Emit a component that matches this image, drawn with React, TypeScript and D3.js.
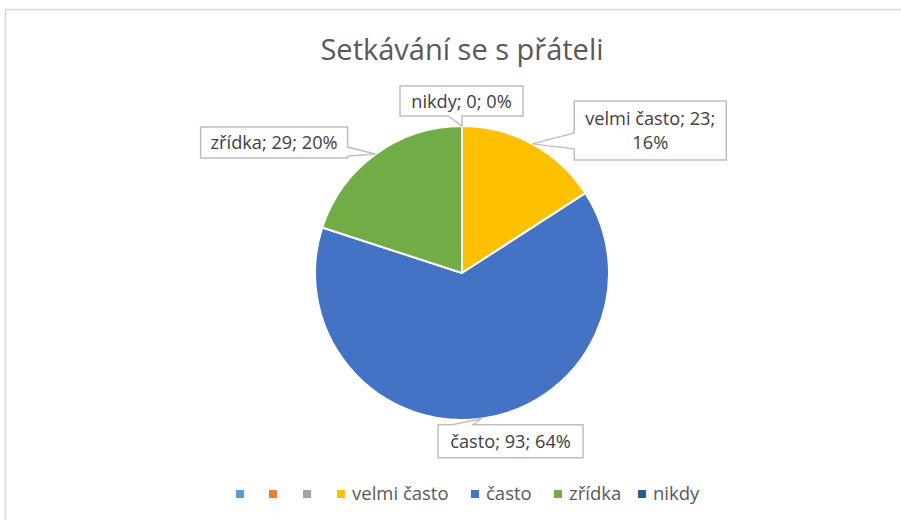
import React from "react";
import * as d3 from "d3";

const categories = ["", " ", "  ", "velmi často", "často", "zřídka", "nikdy"];
const values = [0, 0, 0, 23, 93, 29, 0];
const colors = ["#5B9BD5", "#ED7D31", "#A5A5A5", "#FFC000", "#4472C4", "#70AD47", "#255E91"];
const title = "Setkávání se s přáteli";

const W = 901;
const H = 520;
const cx = 462;
const cy = 273;
const R = 147;
const FONT = "'Open Sans', Lato, sans-serif";

// label box layout relative to the tip point (layout only)
type Box = { dx: number; dy: number; w: number; h: number; side: "top" | "bottom" | "left" | "right"; b0: number; b1: number };
const labelBoxes: Record<string, Box> = {
  "velmi často": { dx: 42, dy: -43, w: 152, h: 59, side: "left", b0: 32, b1: 48 },
  "často": { dx: -43, dy: 6, w: 145, h: 33, side: "top", b0: 14, b1: 35 },
  "zřídka": { dx: -175, dy: -27, w: 147, h: 31, side: "right", b0: 20, b1: 29 },
  "nikdy": { dx: -62, dy: -40, w: 123, h: 30, side: "bottom", b0: 48, b1: 62 },
};

function calloutPath(x: number, y: number, w: number, h: number, tx: number, ty: number, b: Box) {
  const x2 = x + w, y2 = y + h;
  const p: [number, number][] = [];
  p.push([x, y]);
  if (b.side === "top") { p.push([x + b.b0, y], [tx, ty], [x + b.b1, y]); }
  p.push([x2, y]);
  if (b.side === "right") { p.push([x2, y + b.b0], [tx, ty], [x2, y + b.b1]); }
  p.push([x2, y2]);
  if (b.side === "bottom") { p.push([x + b.b1, y2], [tx, ty], [x + b.b0, y2]); }
  p.push([x, y2]);
  if (b.side === "left") { p.push([x, y + b.b1], [tx, ty], [x, y + b.b0]); }
  return "M" + p.map((q) => q.join(",")).join("L") + "Z";
}

export default function App() {
  const total = d3.sum(values);
  const data = categories.map((c, i) => ({ c, v: values[i], color: colors[i] }));
  const pie = d3.pie<any>().value((d) => d.v).sort(null).startAngle(0).endAngle(2 * Math.PI);
  const arcs = pie(data);
  const arc = d3.arc<any>().innerRadius(0).outerRadius(R);

  const legendX = [240, 273, 307, 341, 475, 558, 642];

  return (
    <div style={{ position: "fixed", left: 0, top: 0 }}>
      <svg width={W} height={H} style={{ display: "block", fontFamily: FONT }}>
        <rect x={0} y={0} width={W} height={H} fill="#fff" />
        <rect x={5.5} y={9.5} width={W + 10} height={H + 10} fill="none" stroke="#D9D9D9" strokeWidth={1.5} />
        <text x={cx} y={60} textAnchor="middle" fontSize={29} fill="#595959">{title}</text>
        <g transform={`translate(${cx},${cy})`}>
          {arcs.filter((a) => a.data.v > 0).map((a, i) => (
            <path key={i} d={arc(a) as string} fill={a.data.color} stroke="#fff" strokeWidth={2} strokeLinejoin="round" />
          ))}
        </g>
        {arcs.filter((a) => labelBoxes[a.data.c]).map((a, i) => {
          const mid = (a.startAngle + a.endAngle) / 2;
          const tx = cx + R * Math.sin(mid);
          const ty = cy - R * Math.cos(mid);
          const b = labelBoxes[a.data.c];
          const bx = tx + b.dx;
          const by = ty + b.dy;
          const pct = Math.round((a.data.v / total) * 100);
          const lines = a.data.c === "velmi často"
            ? [`${a.data.c}; ${a.data.v};`, `${pct}%`]
            : [`${a.data.c}; ${a.data.v}; ${pct}%`];
          const lh = 24;
          const startY = by + b.h / 2 - ((lines.length - 1) * lh) / 2 + 6.5;
          return (
            <g key={i}>
              <path d={calloutPath(bx, by, b.w, b.h, tx, ty, b)} fill="#fff" stroke="#BFBFBF" strokeWidth={1.5} />
              {lines.map((l, j) => (
                <text key={j} x={bx + b.w / 2} y={startY + j * lh} textAnchor="middle" fontSize={18.2} fill="#404040">{l}</text>
              ))}
            </g>
          );
        })}
        <g>
          {data.map((d, i) => (
            <g key={i}>
              <rect x={legendX[i] - 4} y={490} width={8} height={8} fill={d.color} />
              {d.c.trim() && (
                <text x={legendX[i] + 11} y={500} fontSize={18.5} fill="#595959">{d.c}</text>
              )}
            </g>
          ))}
        </g>
      </svg>
    </div>
  );
}
